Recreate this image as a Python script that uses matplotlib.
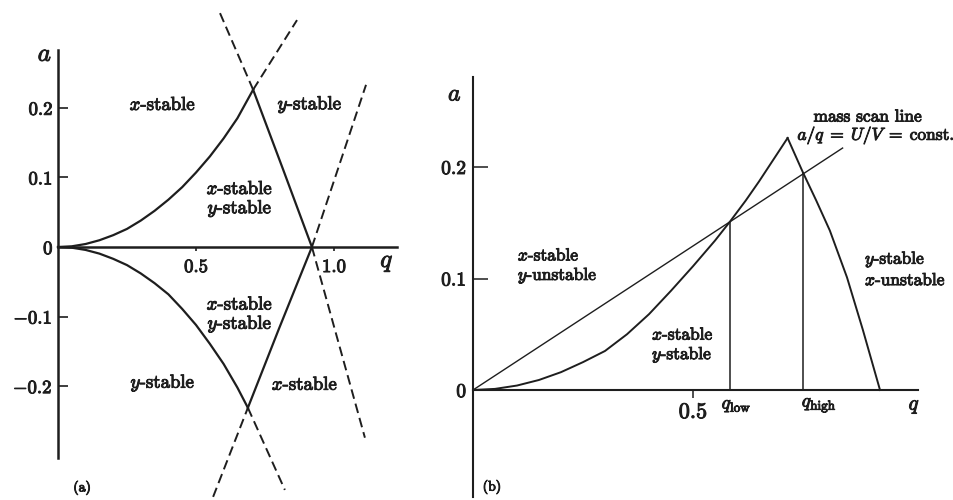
import numpy as np
import matplotlib.pyplot as plt
import matplotlib.patheffects as pe
from matplotlib.text import Text

plt.rcParams['mathtext.fontset'] = 'cm'
plt.rcParams['font.family'] = ['cmr10', 'DejaVu Serif']
plt.rcParams['axes.formatter.use_mathtext'] = True

INK = '#1e1e1e'

# --- (a) stability diagram ---
# upper boundary, origin -> top apex
ua_q = [0.0, 0.05, 0.1, 0.15, 0.2, 0.25, 0.3, 0.35, 0.4, 0.45, 0.5, 0.55, 0.6, 0.65, 0.707]
ua_a = [0.0, 0.001, 0.0043, 0.0097, 0.017, 0.026, 0.038, 0.052, 0.068, 0.086, 0.107,
        0.130, 0.156, 0.185, 0.226]
# lower boundary, origin -> bottom apex
la_q = [0.0, 0.05, 0.1, 0.15, 0.2, 0.25, 0.3, 0.35, 0.4, 0.45, 0.5, 0.55, 0.6, 0.65, 0.688]
la_a = [0.0, -0.001, -0.0042, -0.0095, -0.017, -0.026, -0.038, -0.052, -0.068, -0.089,
        -0.112, -0.139, -0.168, -0.202, -0.231]
# straight-ish boundaries meeting on the q axis
ra_q = [0.707, 0.815, 0.92]
ra_a = [0.226, 0.112, 0.0]
rb_q = [0.688, 0.80, 0.92]
rb_a = [-0.231, -0.118, 0.0]
# dashed continuations (q pairs, a pairs)
dash_q = [[0.707, 0.866], [0.587, 0.707], [0.92, 1.112],
          [0.688, 0.822], [0.562, 0.688], [0.92, 1.116]]
dash_a = [[0.226, 0.326], [0.336, 0.226], [0.0, -0.274],
          [-0.231, -0.349], [-0.359, -0.231], [0.0, 0.233]]

a_yticks = [-0.2, -0.1, 0.0, 0.1, 0.2]
a_yticklabels = ['$-0.2$', '$-0.1$', '0', '0.1', '0.2']
a_xticks = [0.5, 1.0]
a_xticklabels = ['0.5', '1.0']

# --- (b) working region with the mass scan line ---
b_left_q = [0.0, 0.05, 0.1, 0.15, 0.2, 0.25, 0.3, 0.35, 0.4, 0.45, 0.5, 0.55, 0.584,
            0.62, 0.65, 0.68, 0.715]
b_left_a = [0.0, 0.001, 0.004, 0.009, 0.016, 0.025, 0.035, 0.050, 0.068, 0.089, 0.111,
            0.134, 0.151, 0.170, 0.187, 0.205, 0.226]
b_right_q = [0.715, 0.75, 0.78, 0.811, 0.85, 0.886, 0.925]
b_right_a = [0.226, 0.195, 0.170, 0.143, 0.101, 0.054, 0.0]
scan_q = [0.0, 0.84]
scan_a = [0.0, 0.217]
q_low, a_low = 0.584, 0.151
q_high, a_high = 0.75, 0.195

b_yticks = [0.0, 0.1, 0.2]
b_yticklabels = ['0', '0.1', '0.2']

fig = plt.figure(figsize=(9.54, 5.0), dpi=100)

# ---------------- panel (a) ----------------
ax = fig.add_axes([0, 0, 420 / 954, 1])
ax.set_xlim(-58 / 276, (420 - 58) / 276)
ax.set_ylim((247 - 500) / 696, 247 / 696)
ax.patch.set_alpha(0)
for s in ['top', 'right']:
    ax.spines[s].set_visible(False)
ax.spines['left'].set_position(('data', 0))
ax.spines['bottom'].set_position(('data', 0))
ax.spines['left'].set_bounds(-0.303, 0.283)
ax.spines['bottom'].set_bounds(0, 1.228)
for s in ['left', 'bottom']:
    ax.spines[s].set_linewidth(1.8)
    ax.spines[s].set_color(INK)

ax.set_yticks(a_yticks, a_yticklabels, fontsize=13.5)
ax.set_xticks(a_xticks, a_xticklabels, fontsize=13.5)
ax.tick_params(axis='y', direction='in', length=7, width=1.2, pad=4, colors=INK)
ax.tick_params(axis='x', direction='out', length=3, width=1.2, pad=5, colors=INK)
ax.yaxis.get_major_ticks()[2].tick1line.set_visible(False)

ax.plot(ua_q, ua_a, color=INK, lw=1.6)
ax.plot(la_q, la_a, color=INK, lw=1.6)
ax.plot(ra_q, ra_a, color=INK, lw=1.6)
ax.plot(rb_q, rb_a, color=INK, lw=1.6)
for qq, aa in zip(dash_q, dash_a):
    ax.plot(qq, aa, color=INK, lw=1.4, ls=(0, (5, 2.6)))

ax.text(-0.047, 0.276, '$a$', fontsize=18, ha='center', va='center', color=INK)
ax.text(1.192, -0.023, '$q$', fontsize=18, ha='center', va='center', color=INK)
ax.text(0.087, -0.346, '(a)', fontsize=10, ha='center', va='center', color=INK)

lab = dict(fontsize=13.5, ha='center', va='center', color=INK, linespacing=0.95)
ax.text(0.380, 0.204, '$x$-stable', **lab)
ax.text(0.913, 0.205, '$y$-stable', **lab)
ax.text(0.659, 0.068, '$x$-stable\n$y$-stable', **lab)
ax.text(0.659, -0.098, '$x$-stable\n$y$-stable', **lab)
ax.text(0.380, -0.195, '$y$-stable', **lab)
ax.text(0.895, -0.198, '$x$-stable', **lab)

# ---------------- panel (b) ----------------
bx = fig.add_axes([420 / 954, 0, 534 / 954, 1])
bx.set_xlim((420 - 473) / 440, (954 - 473) / 440)
bx.set_ylim((390 - 500) / 1115, 390 / 1115)
bx.patch.set_alpha(0)
for s in ['top', 'right']:
    bx.spines[s].set_visible(False)
bx.spines['left'].set_position(('data', 0))
bx.spines['bottom'].set_position(('data', 0))
bx.spines['left'].set_bounds(-0.096, 0.281)
bx.spines['bottom'].set_bounds(0, 1.011)
for s in ['left', 'bottom']:
    bx.spines[s].set_linewidth(1.5)
    bx.spines[s].set_color(INK)

bx.set_yticks(b_yticks, b_yticklabels, fontsize=14)
bx.set_xticks([0.5], ['0.5'], fontsize=16)
bx.tick_params(axis='y', direction='in', length=11, width=1.1, pad=5, colors=INK)
bx.tick_params(axis='x', direction='out', length=6, width=1.1, pad=3, colors=INK)
bx.yaxis.get_major_ticks()[0].tick1line.set_visible(False)

bx.plot(b_left_q, b_left_a, color=INK, lw=1.4)
bx.plot(b_right_q, b_right_a, color=INK, lw=1.4)
bx.plot(scan_q, scan_a, color=INK, lw=1.0)
bx.plot([q_low, q_low], [0, a_low], color=INK, lw=1.1)
bx.plot([q_high, q_high], [0, a_high], color=INK, lw=1.1)

bx.text(-0.041, 0.265, '$a$', fontsize=17, ha='center', va='center', color=INK)
bx.text(1.003, -0.015, '$q$', fontsize=15, ha='center', va='center', color=INK)
bx.text(q_low + 0.015, -0.014, r'$q_{\rm low}$', fontsize=13.5, ha='center', va='center', color=INK)
bx.text(q_high + 0.037, -0.014, r'$q_{\rm high}$', fontsize=13.5, ha='center', va='center', color=INK)
bx.text(0.043, -0.087, '(b)', fontsize=10, ha='center', va='center', color=INK)
bx.text(0.897, 0.245, 'mass scan line', fontsize=12.5, ha='center', va='center', color=INK)
bx.text(0.916, 0.228, r'$a/q\;=\;U/V\;=\;$const.', fontsize=12.5, ha='center',
        va='center', color=INK)

lab_b = dict(fontsize=12.5, ha='left', va='center', color=INK, linespacing=1.1)
bx.text(0.102, 0.111, '$x$-stable\n$y$-unstable', **lab_b)
bx.text(0.407, 0.040, '$x$-stable\n$y$-stable', **lab_b)
bx.text(0.891, 0.109, '$y$-stable\n$x$-unstable', **lab_b)

# heavier strokes, like the printed original
for t in fig.findobj(Text):
    t.set_path_effects([pe.withStroke(linewidth=0.7, foreground=INK)])

fig.savefig('out.png', dpi=100)
